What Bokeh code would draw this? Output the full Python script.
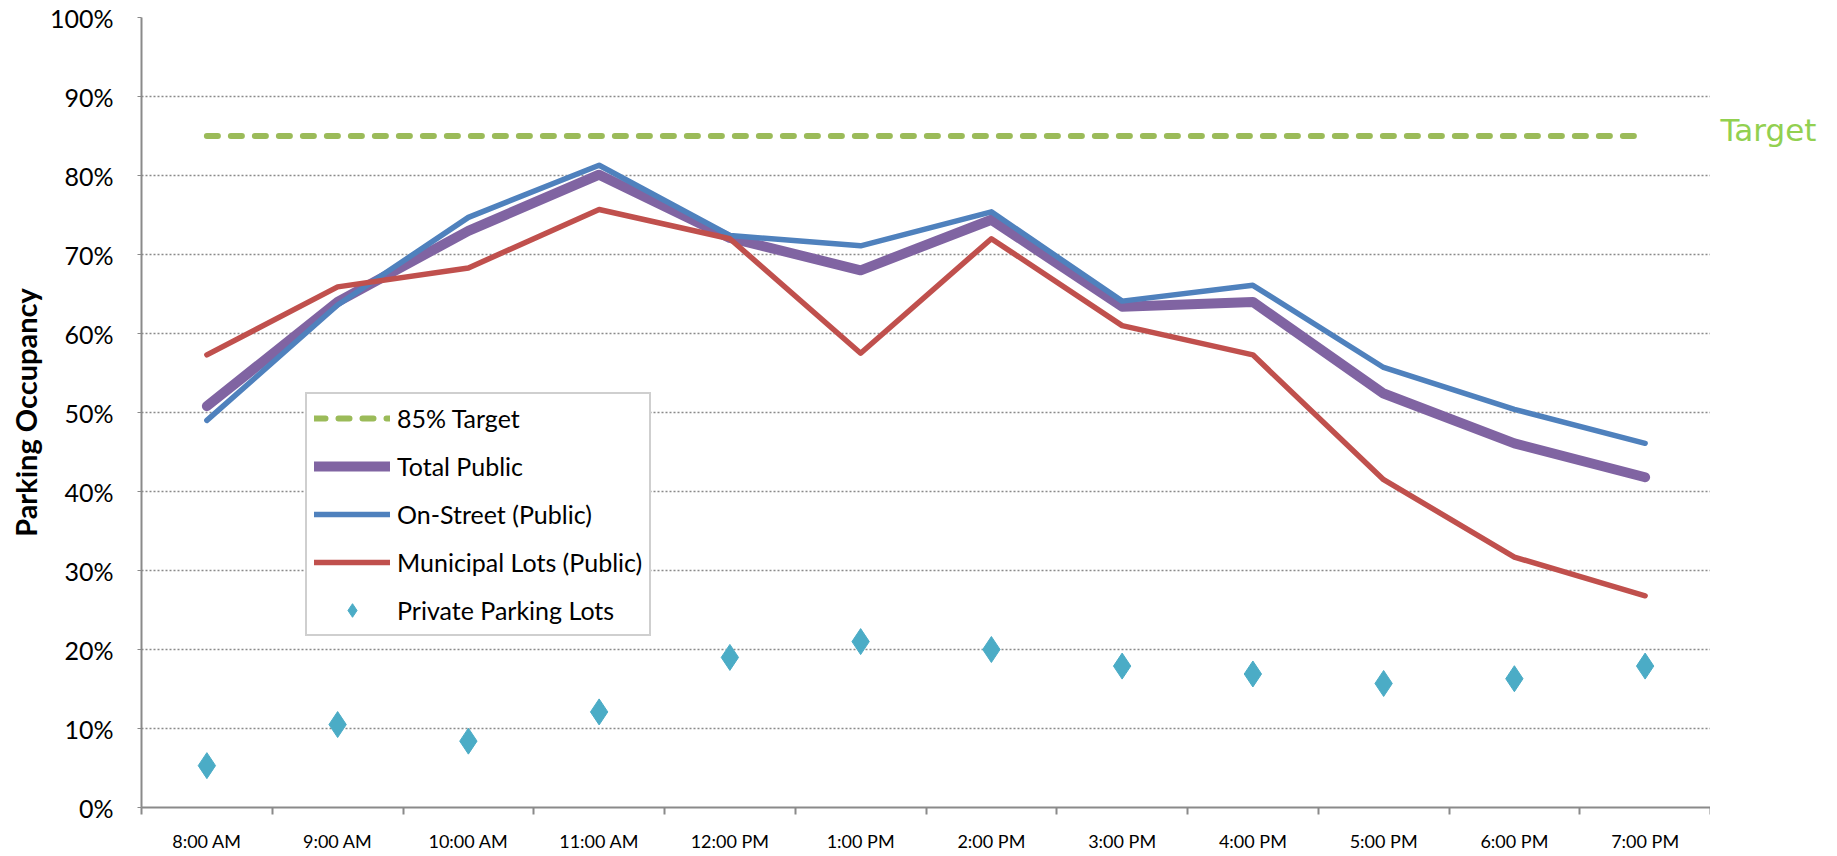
from bokeh.plotting import figure
from bokeh.layouts import row
from bokeh.models import (FixedTicker, PrintfTickFormatter, Legend, LegendItem,
                          Label, Range1d, ColumnDataSource)
from bokeh.embed import file_html
from bokeh.resources import INLINE

# ---- data (percent occupancy) ----
times = ["8:00 AM", "9:00 AM", "10:00 AM", "11:00 AM", "12:00 PM", "1:00 PM",
         "2:00 PM", "3:00 PM", "4:00 PM", "5:00 PM", "6:00 PM", "7:00 PM"]
target = [85, 85, 85, 85, 85, 85, 85, 85, 85, 85, 85, 85]
target_label = "Target"
target_level = 85
total_public = [50.8, 64.0, 73.0, 80.1, 72.1, 68.0, 74.4, 63.4, 64.0, 52.4, 46.1, 41.8]
on_street = [49.0, 63.6, 74.7, 81.3, 72.4, 71.1, 75.4, 64.1, 66.1, 55.7, 50.4, 46.1]
municipal_lots = [57.3, 65.9, 68.3, 75.7, 72.0, 57.5, 72.0, 61.0, 57.3, 41.5, 31.7, 26.8]
private_lots = [5.3, 10.5, 8.4, 12.1, 19.0, 21.0, 20.0, 17.9, 16.9, 15.7, 16.3, 17.9]

FONT = "Lato"
H = 854
TOP = 17
BOTTOM = 40

xs = [i + 0.5 for i in range(len(times))]
src = ColumnDataSource(dict(x=xs, target=target, total=total_public, street=on_street,
                            muni=municipal_lots, private=private_lots))

p = figure(width=1710, height=H, output_backend="svg", toolbar_location=None,
           x_range=Range1d(0, len(times)), y_range=Range1d(0, 100),
           min_border_left=141, min_border_right=0, min_border_top=TOP,
           min_border_bottom=BOTTOM)
p.outline_line_color = None
p.background_fill_color = "white"
p.border_fill_color = "white"

# grid
p.xgrid.grid_line_color = None
p.ygrid.grid_line_color = "#8a8a8a"
p.ygrid.grid_line_dash = "2 2"
p.ygrid.grid_line_width = 1.6

# x axis
xa = p.xaxis[0]
xa.axis_label = None
xa.ticker = FixedTicker(ticks=xs, minor_ticks=[i for i in range(len(times) + 1)])
xa.major_label_overrides = {x: t for x, t in zip(xs, times)}
xa.major_tick_out = 0
xa.major_tick_in = 0
xa.minor_tick_out = 7
xa.minor_tick_in = 0
xa.minor_tick_line_color = "#8a8a8a"
xa.minor_tick_line_width = 2
xa.axis_line_color = "#8a8a8a"
xa.axis_line_width = 2
xa.major_label_text_font = FONT
xa.major_label_text_font_size = "18px"
xa.major_label_text_color = "#000000"
xa.major_label_standoff = 15
xa.axis_label_standoff = 0

# y axis
ya = p.yaxis[0]
ya.ticker = FixedTicker(ticks=list(range(0, 101, 10)))
ya.formatter = PrintfTickFormatter(format="%d%%")
ya.major_tick_out = 4
ya.major_tick_in = 0
ya.major_tick_line_color = "#8a8a8a"
ya.minor_tick_line_color = None
ya.axis_line_color = "#8a8a8a"
ya.axis_line_width = 2
ya.major_label_text_font = FONT
ya.major_label_text_font_size = "25px"
ya.major_label_text_color = "#000000"
ya.major_label_standoff = 24
ya.axis_label = "Parking Occupancy"
ya.axis_label_text_font = FONT
ya.axis_label_text_font_style = "bold"
ya.axis_label_text_font_size = "29px"
ya.axis_label_text_color = "#000000"
ya.axis_label_standoff = 4

# series
r_target = p.line("x", "target", source=src, line_color="#9BBB59", line_width=6,
                  line_dash="11 13", line_cap="round")
r_total = p.line("x", "total", source=src, line_color="#8064A2", line_width=10,
                 line_cap="round", line_join="round")
r_street = p.line("x", "street", source=src, line_color="#4F81BD", line_width=5.5,
                  line_cap="round", line_join="round")
r_muni = p.line("x", "muni", source=src, line_color="#C0504D", line_width=5.5,
                line_cap="round", line_join="round")
r_priv = p.scatter("x", "private", source=src, marker="diamond", size=26,
                   fill_color="#4BACC6", line_color="#4BACC6")

legend = Legend(items=[
    LegendItem(label="85% Target", renderers=[r_target]),
    LegendItem(label="Total Public", renderers=[r_total]),
    LegendItem(label="On-Street (Public)", renderers=[r_street]),
    LegendItem(label="Municipal Lots (Public)", renderers=[r_muni]),
    LegendItem(label="Private Parking Lots", renderers=[r_priv]),
], location=(164, 171))
legend.glyph_width = 76
legend.glyph_height = 34
legend.label_height = 30
legend.spacing = 14
legend.padding = 7
legend.margin = 0
legend.label_standoff = 7
legend.label_text_font = FONT
legend.label_text_font_size = "25px"
legend.label_text_color = "#000000"
legend.border_line_color = "#a0a0a0"
legend.border_line_width = 2
legend.background_fill_color = "white"
legend.background_fill_alpha = 1
p.add_layout(legend, "center")

# right-hand panel carrying the "Target" caption, sharing the y scale
p2 = figure(width=122, height=H, output_backend="svg", toolbar_location=None,
            x_range=Range1d(0, 1), y_range=p.y_range,
            min_border_left=0, min_border_right=0, min_border_top=TOP,
            min_border_bottom=BOTTOM)
p2.axis.visible = False
p2.grid.grid_line_color = None
p2.outline_line_color = None
p2.add_layout(Label(x=10, x_units="screen", y=target_level, text=target_label,
                    text_font="DejaVu Sans", text_font_size="31px", text_color="#92D050",
                    text_baseline="middle", y_offset=6))

open("out.html", "w").write(file_html(row(p, p2), INLINE))
